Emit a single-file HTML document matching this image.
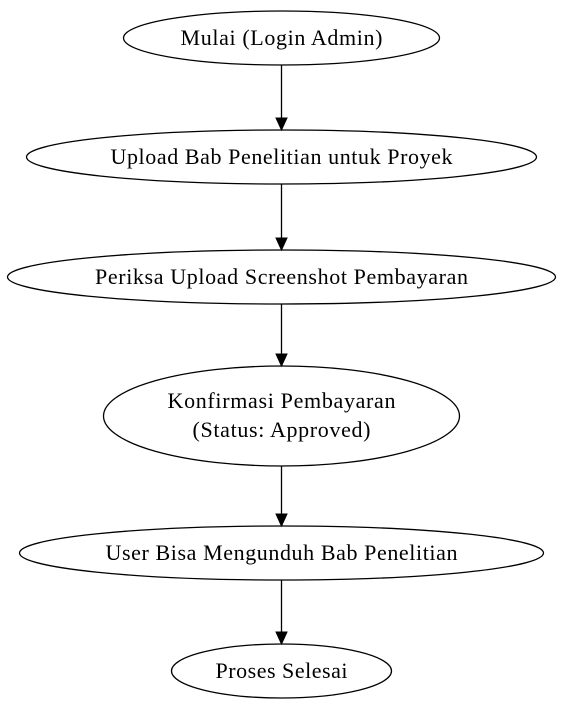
<!DOCTYPE html>
<html><head><meta charset="utf-8"><style>html,body{margin:0;padding:0;background:#fff}svg{display:block}</style></head>
<body>
<svg width="563" height="711" viewBox="0 0 563 711" xmlns="http://www.w3.org/2000/svg">
<g fill="none" stroke="#000" stroke-width="1.3">
<ellipse cx="281.5" cy="38" rx="158" ry="27"/>
<ellipse cx="281.5" cy="157" rx="255" ry="27"/>
<ellipse cx="281.5" cy="277" rx="274" ry="27"/>
<ellipse cx="281.5" cy="416" rx="178" ry="50"/>
<ellipse cx="281.5" cy="553" rx="262" ry="27"/>
<ellipse cx="281.5" cy="671" rx="110" ry="27"/>
<line x1="281.5" y1="65" x2="281.5" y2="118"/>
<line x1="281.5" y1="184" x2="281.5" y2="238"/>
<line x1="281.5" y1="304" x2="281.5" y2="354"/>
<line x1="281.5" y1="466" x2="281.5" y2="514"/>
<line x1="281.5" y1="580" x2="281.5" y2="632"/>
</g>
<g fill="#000" stroke="#000">
<polygon points="276,118 287,118 281.5,130"/>
<polygon points="276,238 287,238 281.5,250"/>
<polygon points="276,354 287,354 281.5,366"/>
<polygon points="276,514 287,514 281.5,526"/>
<polygon points="276,632 287,632 281.5,644"/>
</g>
<g font-family="Liberation Serif, serif" font-size="22" text-anchor="middle" fill="#000" lengthAdjust="spacingAndGlyphs">
<text x="281.5" y="45" textLength="202">Mulai (Login Admin)</text>
<text x="281.5" y="164" textLength="342">Upload Bab Penelitian untuk Proyek</text>
<text x="281.5" y="284" textLength="373">Periksa Upload Screenshot Pembayaran</text>
<text x="281.5" y="408" textLength="228">Konfirmasi Pembayaran</text>
<text x="281.5" y="437" textLength="178">(Status: Approved)</text>
<text x="281.5" y="560" textLength="352">User Bisa Mengunduh Bab Penelitian</text>
<text x="281.5" y="678" textLength="132">Proses Selesai</text>
</g>
</svg>
</body></html>
